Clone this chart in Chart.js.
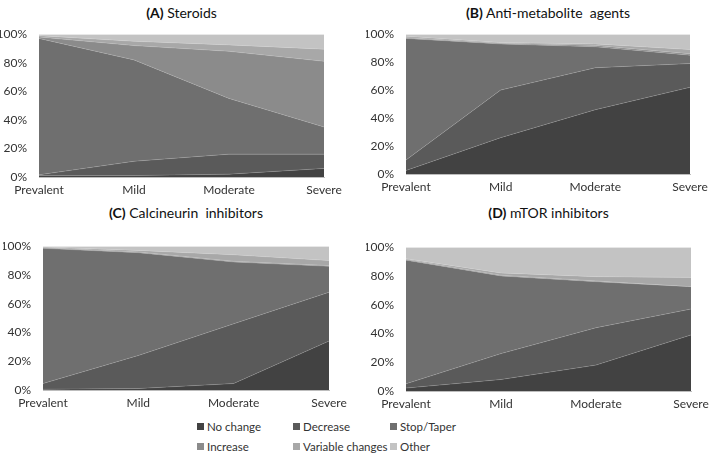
<!DOCTYPE html>
<html>
<head>
<meta charset="utf-8">
<script src="https://cdn.jsdelivr.net/npm/chart.js@4/dist/chart.umd.min.js"></script>
<style>
  body { margin: 0; background: #fff; font-family: Lato, "Open Sans", sans-serif; }
  #wrap { position: relative; width: 709px; height: 455px; overflow: hidden; }
  .panel { position: absolute; }
  .title { position: absolute; font-size: 14px; font-weight: 400; color: #111; text-align: center; white-space: nowrap; }
  .title b { font-weight: 700; }
  #legend { position: absolute; left: 197px; top: 420px; font-size: 11.5px; color: #333; }
  .item { position: absolute; white-space: nowrap; }
  .sw { display: inline-block; width: 7px; height: 7px; margin-right: 3px; vertical-align: 1px; }
</style>
</head>
<body>
<div id="wrap"></div>
<script>
const categories = ["Prevalent", "Mild", "Moderate", "Severe"];
const seriesNames = ["No change", "Decrease", "Stop/Taper", "Increase", "Variable changes", "Other"];
const seriesColors = ["#424242", "#5a5a5a", "#6f6f6f", "#8b8b8b", "#a8a8a8", "#c3c3c3"];
const yTicks = [0, 20, 40, 60, 80, 100];

// (A) Steroids
const steroidsNoChange = [1, 1, 2, 6];
const steroidsDecrease = [0.5, 10, 14, 10];
const steroidsStop = [95.5, 71, 39, 19];
const steroidsIncrease = [1, 10, 33, 46];
const steroidsVariable = [1, 3, 4.5, 8.5];
const steroidsOther = [1, 5, 7.5, 10.5];

// (B) Anti-metabolite agents
const antimetNoChange = [2.5, 26, 46, 62];
const antimetDecrease = [7.5, 34, 30, 17];
const antimetStop = [87, 33, 15, 6];
const antimetIncrease = [0.5, 0.5, 1, 1];
const antimetVariable = [1, 0.5, 1, 3];
const antimetOther = [1.5, 6, 7, 11];

// (C) Calcineurin inhibitors
const calciNoChange = [0.5, 1, 4.5, 34];
const calciDecrease = [4, 23, 41.5, 34];
const calciStop = [94, 71.5, 43, 18];
const calciIncrease = [0.5, 0.5, 0.5, 0.5];
const calciVariable = [0.5, 1, 4.5, 3.5];
const calciOther = [0.5, 3, 6, 10];

// (D) mTOR inhibitors
const mtorNoChange = [2, 8, 18, 39];
const mtorDecrease = [3, 18, 26, 18];
const mtorStop = [86, 54, 32, 15.5];
const mtorIncrease = [0.5, 0.5, 0.5, 0];
const mtorVariable = [0.5, 1.5, 3, 6.5];
const mtorOther = [8, 18, 20.5, 21];

const panels = [
  { letter: "(A)", name: "Steroids", series: [steroidsNoChange, steroidsDecrease, steroidsStop, steroidsIncrease, steroidsVariable, steroidsOther],
    left: 39, right: 324, top: 31, bottom: 177, titleY: 4 },
  { letter: "(B)", name: "Anti-metabolite&nbsp; agents", series: [antimetNoChange, antimetDecrease, antimetStop, antimetIncrease, antimetVariable, antimetOther],
    left: 406, right: 690, top: 31, bottom: 174, titleY: 4 },
  { letter: "(C)", name: "Calcineurin&nbsp; inhibitors", series: [calciNoChange, calciDecrease, calciStop, calciIncrease, calciVariable, calciOther],
    left: 43, right: 329, top: 243, bottom: 390, titleY: 204 },
  { letter: "(D)", name: "mTOR inhibitors", series: [mtorNoChange, mtorDecrease, mtorStop, mtorIncrease, mtorVariable, mtorOther],
    left: 406, right: 691, top: 244, bottom: 391, titleY: 204 }
];

const legendCols = [0, 96, 193];

const wrap = document.getElementById("wrap");
const axisW = 40, padTop = 8, padRight = 24, axisH = 24;

panels.forEach(p => {
  const t = document.createElement("div");
  t.className = "title";
  t.style.left = p.left + "px";
  t.style.width = (p.right - p.left) + "px";
  t.style.top = p.titleY + "px";
  t.innerHTML = `<b>${p.letter}</b> ${p.name}`;
  wrap.appendChild(t);

  const box = document.createElement("div");
  box.className = "panel";
  const cl = p.left - axisW, ct = p.top - padTop;
  const cw = p.right - cl + padRight, ch = p.bottom - ct + axisH;
  box.style.left = cl + "px";
  box.style.top = ct + "px";
  box.style.width = cw + "px";
  box.style.height = ch + "px";
  const canvas = document.createElement("canvas");
  box.appendChild(canvas);
  wrap.appendChild(box);

  new Chart(canvas, {
    type: "line",
    data: {
      labels: categories,
      datasets: p.series.map((vals, i) => ({
        label: seriesNames[i],
        data: vals,
        backgroundColor: seriesColors[i],
        borderColor: "rgba(255,255,255,0.25)",
        borderWidth: 0.6,
        pointRadius: 0,
        tension: 0,
        fill: i === 0 ? "origin" : "-1"
      }))
    },
    options: {
      responsive: true,
      maintainAspectRatio: false,
      animation: false,
      layout: { padding: { top: padTop, right: padRight, left: 0, bottom: 0 } },
      plugins: { legend: { display: false }, tooltip: { enabled: false } },
      scales: {
        x: {
          offset: false,
          grid: { display: false, drawOnChartArea: false, tickLength: 4, tickColor: "#bdbdbd" },
          border: { display: true, color: "#bdbdbd" },
          ticks: { color: "#333", font: { family: "Lato", size: 12 }, maxRotation: 0, autoSkip: false, padding: 2 },
          afterFit: s => { s.height = axisH; }
        },
        y: {
          stacked: true,
          min: 0,
          max: 100,
          afterBuildTicks: s => { s.ticks = yTicks.map(v => ({ value: v })); },
          grid: { display: false },
          border: { display: false },
          ticks: { color: "#333", font: { family: "Lato", size: 12 }, padding: 4, callback: v => v + "%" },
          afterFit: s => { s.width = axisW; }
        }
      }
    }
  });
});

const legend = document.createElement("div");
legend.id = "legend";
seriesNames.forEach((name, i) => {
  const it = document.createElement("div");
  it.className = "item";
  it.style.left = legendCols[i % 3] + "px";
  it.style.top = Math.floor(i / 3) * 20 + "px";
  it.innerHTML = `<span class="sw" style="background:${seriesColors[i]}"></span>${name}`;
  legend.appendChild(it);
});
wrap.appendChild(legend);
</script>
</body>
</html>
